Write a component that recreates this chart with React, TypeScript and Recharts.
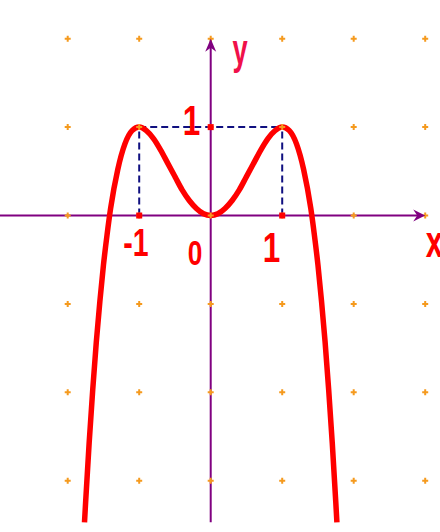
import React from 'react';
import { ComposedChart, Line, Scatter, XAxis, YAxis, ReferenceLine, ReferenceDot } from 'recharts';

// Curve y = 2x^2 - x^4
const curveXs = [-1.765, -1.75, -1.7, -1.65, -1.6, -1.55, -1.5, -1.45, -1.4, -1.3, -1.2, -1.1, -1.0, -0.9, -0.8, -0.7, -0.6, -0.5, -0.4, -0.3, -0.2, -0.1, 0, 0.1, 0.2, 0.3, 0.4, 0.5, 0.6, 0.7, 0.8, 0.9, 1.0, 1.1, 1.2, 1.3, 1.4, 1.45, 1.5, 1.55, 1.6, 1.65, 1.7, 1.75, 1.765];
const curveYs = [-3.47, -3.25, -2.57, -1.97, -1.43, -0.97, -0.56, -0.22, 0.08, 0.52, 0.81, 0.96, 1.0, 0.96, 0.87, 0.74, 0.59, 0.44, 0.29, 0.17, 0.08, 0.02, 0, 0.02, 0.08, 0.17, 0.29, 0.44, 0.59, 0.74, 0.87, 0.96, 1.0, 0.96, 0.81, 0.52, 0.08, -0.22, -0.56, -0.97, -1.43, -1.97, -2.57, -3.25, -3.47];

const gridXs = [-3, -2, -1, 0, 1, 2, 3];
const gridYs = [2, 1, 0, -1, -2, -3];

const xTickLabels = ['-1', '0', '1'];
const yTickLabels = ['1'];
const axisNames = ['x', 'y'];

const curve = curveXs.map((x, i) => ({ x, y: curveYs[i] }));
const gridPts = gridXs.flatMap((x) => gridYs.map((y) => ({ x, y })));

const W = 440;
const H = 532;
const X_DOMAIN: [number, number] = [-2.947, 3.207];
const Y_DOMAIN: [number, number] = [-3.58, 2.438];

const AXIS = '#800080';
const NAVY = '#101080';
const RED = '#ff0000';
const ORANGE = '#f59a1e';

const Plus = (p: any) => (
  <path d={`M${p.cx - 3},${p.cy}h6M${p.cx},${p.cy - 3}v6`} stroke={ORANGE} strokeWidth={2} fill="none" />
);

const mkText = (text: string, size: number, color: string, sx: number) => (p: any) => (
  <text
    transform={`translate(${p.cx},${p.cy}) scale(${sx},1)`}
    textAnchor="middle"
    fontFamily="'Liberation Sans', Arial, sans-serif"
    fontWeight="bold"
    fontSize={size}
    fill={color}
  >
    {text}
  </text>
);

const ArrowX = (p: any) => (
  <path d={`M${p.cx},${p.cy}L${p.cx - 12},${p.cy - 6}L${p.cx - 8},${p.cy}L${p.cx - 12},${p.cy + 6}Z`} fill={AXIS} />
);
const ArrowY = (p: any) => (
  <path d={`M${p.cx},${p.cy}L${p.cx - 5.5},${p.cy + 13}L${p.cx},${p.cy + 9}L${p.cx + 5.5},${p.cy + 13}Z`} fill={AXIS} />
);
const Sq = (p: any) => <rect x={p.cx - 3} y={p.cy - 3} width={6} height={6} fill={RED} />;

export default function App() {
  return (
    <div style={{ position: 'absolute', left: 0, top: 0, width: W, height: H, background: '#fff' }}>
      <ComposedChart width={W} height={H} margin={{ top: 0, right: 0, bottom: 0, left: 0 }}>
        <XAxis type="number" dataKey="x" domain={X_DOMAIN} allowDataOverflow hide />
        <YAxis type="number" dataKey="y" domain={Y_DOMAIN} allowDataOverflow hide />
        <Scatter data={gridPts} dataKey="y" shape={Plus} isAnimationActive={false} />
        <ReferenceLine segment={[{ x: 0, y: 2 }, { x: 0, y: -3.47 }]} stroke={AXIS} strokeWidth={2} ifOverflow="visible" />
        <ReferenceLine segment={[{ x: -2.95, y: 0 }, { x: 2.9, y: 0 }]} stroke={AXIS} strokeWidth={2} ifOverflow="visible" />
        <ReferenceDot x={3} y={0} shape={ArrowX} ifOverflow="visible" />
        <ReferenceDot x={0} y={2} shape={ArrowY} ifOverflow="visible" />
        <ReferenceLine segment={[{ x: -1, y: 1 }, { x: 1, y: 1 }]} stroke={NAVY} strokeWidth={2} strokeDasharray="7 4" />
        <ReferenceLine segment={[{ x: -1, y: 0 }, { x: -1, y: 1 }]} stroke={NAVY} strokeWidth={2} strokeDasharray="7 4" />
        <ReferenceLine segment={[{ x: 1, y: 0 }, { x: 1, y: 1 }]} stroke={NAVY} strokeWidth={2} strokeDasharray="7 4" />
        <Line data={curve} dataKey="y" type="monotone" stroke={RED} strokeWidth={5.5} dot={false} isAnimationActive={false} />
        <ReferenceDot x={-1} y={0} shape={Sq} />
        <ReferenceDot x={1} y={0} shape={Sq} />
        <ReferenceDot x={0} y={1} shape={Sq} />
        <ReferenceDot x={-1.045} y={-0.458} shape={mkText(xTickLabels[0], 38, RED, 0.75)} ifOverflow="visible" />
        <ReferenceDot x={-0.22} y={-0.56} shape={mkText(xTickLabels[1], 35, RED, 0.75)} ifOverflow="visible" />
        <ReferenceDot x={0.85} y={-0.53} shape={mkText(xTickLabels[2], 42, RED, 0.75)} ifOverflow="visible" />
        <ReferenceDot x={-0.27} y={0.91} shape={mkText(yTickLabels[0], 42, RED, 0.75)} ifOverflow="visible" />
        <ReferenceDot x={3.128} y={-0.47} shape={mkText(axisNames[0], 44, RED, 0.7)} ifOverflow="visible" />
        <ReferenceDot x={0.41} y={1.71} shape={mkText(axisNames[1], 42, '#f0104a', 0.65)} ifOverflow="visible" />
      </ComposedChart>
    </div>
  );
}
